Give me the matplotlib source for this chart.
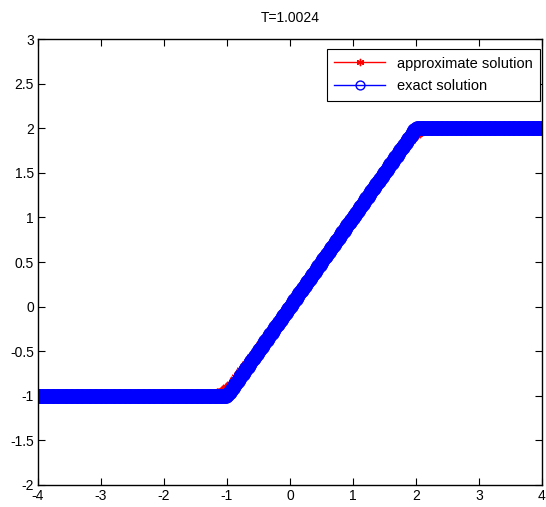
import numpy as np
import matplotlib
matplotlib.use("Agg")
import matplotlib.pyplot as plt

plt.rcParams['font.family'] = ['Liberation Sans', 'DejaVu Sans']
plt.rcParams['axes.unicode_minus'] = False

title = "T=1.0024"
# exact solution knots (piecewise linear)
exact_kx = [-4.0, -1.0, 2.0, 4.0]
exact_ky = [-1.0, -1.0, 2.0, 2.0]
# approximate solution knots (slightly smoothed corners)
approx_kx = [-4.0, -1.25, -1.1, -0.95, -0.8, -0.6, 1.85, 1.95, 2.05, 2.2, 4.0]
approx_ky = [-1.0, -1.0, -0.96, -0.88, -0.74, -0.56, 1.82, 1.9, 1.96, 2.0, 2.0]
n_points = 400

x = np.linspace(-4, 4, n_points)
y_exact = np.interp(x, exact_kx, exact_ky)
y_approx = np.interp(x, approx_kx, approx_ky)

fig = plt.figure(figsize=(5.46, 5.07), dpi=100)
ax = fig.add_axes([0.0696, 0.0434, 0.923, 0.8796])
ax.plot(x, y_approx, color='red', marker=(6, 2, 0), markersize=7, linewidth=1,
        label='approximate solution')
ax.plot(x, y_exact, color='blue', marker='o', markersize=8.5, markerfacecolor='none',
        markeredgewidth=2, linewidth=1, label='exact solution')

ax.set_xlim(-4, 4)
ax.set_ylim(-2, 3)
ax.set_xticks(np.arange(-4, 5, 1))
ax.set_yticks(np.arange(-2, 3.01, 0.5))
ax.set_yticklabels(['-2', '-1.5', '-1', '-0.5', '0', '0.5', '1', '1.5', '2', '2.5', '3'])
ax.tick_params(direction='in', top=True, right=True, labelsize=10, length=5, pad=3)
for s in ax.spines.values():
    s.set_linewidth(1)
ax.set_title(title, fontsize=10, pad=12)
leg = ax.legend(loc='upper right', bbox_to_anchor=(0.996, 0.977), fontsize=10.5,
                fancybox=False, edgecolor='black', framealpha=1, borderaxespad=0,
                handlelength=3.5, markerscale=0.75, borderpad=0.5, labelspacing=0.6)
leg.get_frame().set_linewidth(0.8)
for h in leg.legend_handles:
    h.set_markeredgewidth(1)
fig.savefig('out.png', dpi=100)
